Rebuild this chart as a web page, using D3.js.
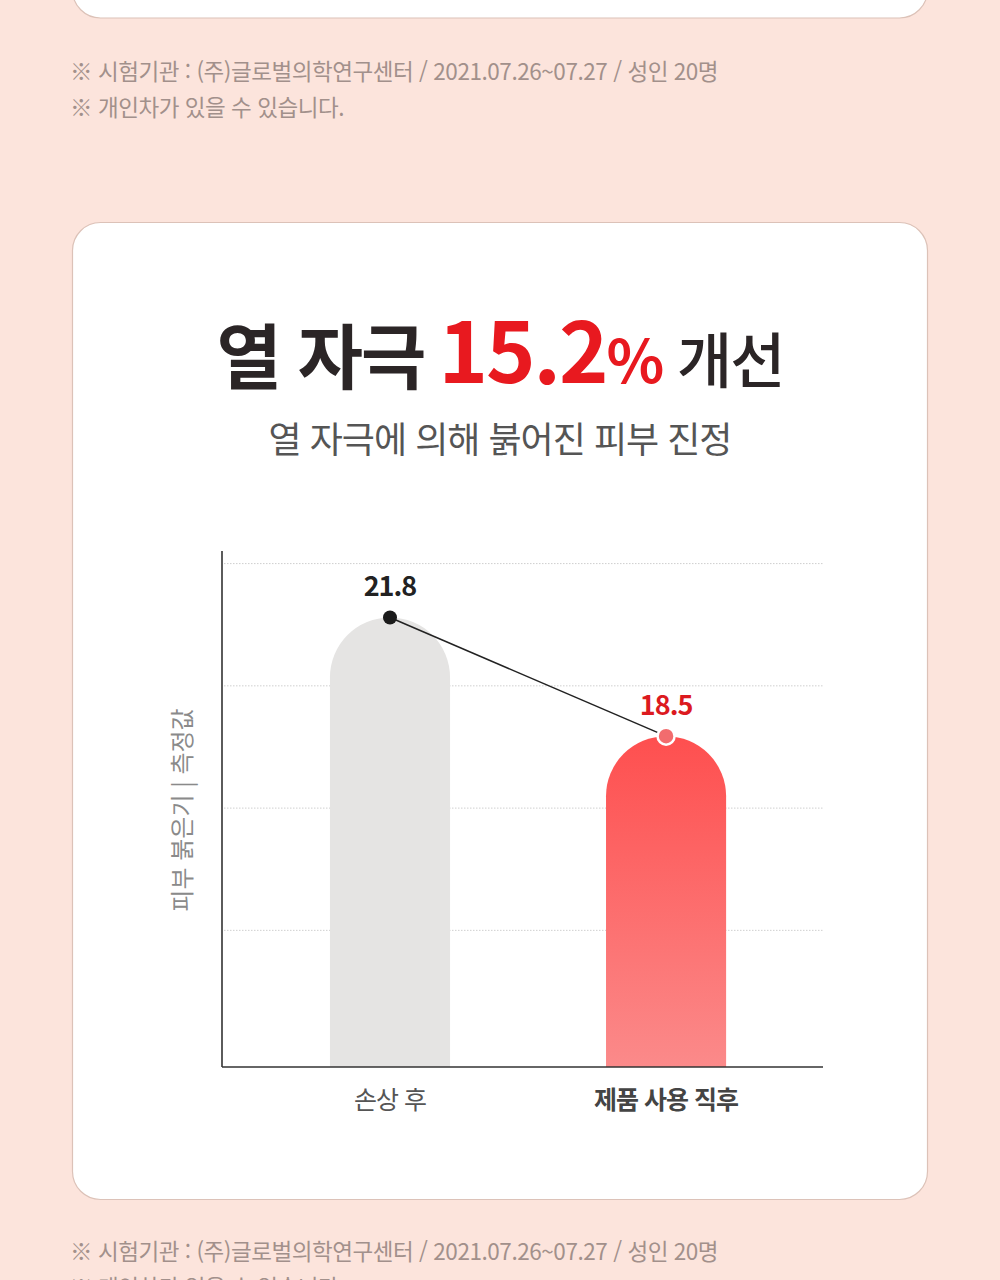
<!DOCTYPE html>
<html lang="ko">
<head>
<meta charset="UTF-8">
<title>열 자극 15.2% 개선</title>
<script src="https://d3js.org/d3.v7.min.js"></script>
<style>
  body { margin: 0; padding: 0; background: #fce4dc; }
  svg { display: block; font-family: "Noto Sans CJK KR", "Noto Sans", sans-serif; }
</style>
</head>
<body>
<script>
  // chart data
  const categories = ["손상 후", "제품 사용 직후"];
  const values = [21.8, 18.5];
  const valueLabels = ["21.8", "18.5"];
  const gridValues = [13.1, 16.5, 19.9, 23.3];
  const yDomain = [9.3, 23.65];
  const footnotes = [
    "※ 시험기관 : (주)글로벌의학연구센터 / 2021.07.26~07.27 / 성인 20명",
    "※ 개인차가 있을 수 있습니다."
  ];

  const width = 1000, height = 1280;
  const plot = { left: 222, right: 823, top: 551, bottom: 1067 };

  const svg = d3.select("body").append("svg")
      .attr("width", width)
      .attr("height", height);

  const defs = svg.append("defs");
  const grad = defs.append("linearGradient")
      .attr("id", "redGrad")
      .attr("x1", 0).attr("y1", 0).attr("x2", 0).attr("y2", 1);
  grad.append("stop").attr("offset", "0%").attr("stop-color", "#fe4f4f");
  grad.append("stop").attr("offset", "100%").attr("stop-color", "#fb8a8a");

  svg.append("rect")
      .attr("width", width).attr("height", height)
      .attr("fill", "#fce4dc");

  // previous card (bottom edge only)
  svg.append("rect")
      .attr("x", 72.5).attr("y", -60)
      .attr("width", 855).attr("height", 78)
      .attr("rx", 28)
      .attr("fill", "#fff")
      .attr("stroke", "#dcc2b8")
      .attr("stroke-width", 1.2);

  // notes
  function drawNotes(y0) {
    svg.append("g")
      .selectAll("text")
      .data(footnotes)
      .join("text")
        .attr("x", 70)
        .attr("y", (d, i) => y0 + i * 36)
        .attr("dy", "0.35em")
        .attr("font-size", 22.5)
        .attr("letter-spacing", "-0.45px")
        .attr("fill", "#a2908b")
        .text(d => d);
  }
  drawNotes(72);
  drawNotes(1252);

  // main card
  svg.append("rect")
      .attr("x", 72.5).attr("y", 222.5)
      .attr("width", 855).attr("height", 977)
      .attr("rx", 28)
      .attr("fill", "#fff")
      .attr("stroke", "#dcc2b8")
      .attr("stroke-width", 1.2);

  // title
  const title = svg.append("text")
      .attr("x", 500)
      .attr("y", 383)
      .attr("text-anchor", "middle")
      .attr("fill", "#2b2526")
      .attr("letter-spacing", "-2px");
  title.append("tspan").attr("font-size", 71).attr("font-weight", 700).text("열 자극");
  title.append("tspan").attr("font-size", 84).attr("font-weight", 700).attr("fill", "#e8191f").attr("dx", 14).text("15.2");
  title.append("tspan").attr("font-size", 60).attr("font-weight", 700).attr("fill", "#e8191f").text("%");
  title.append("tspan").attr("font-size", 60).attr("font-weight", 500).text(" 개선");

  svg.append("text")
      .attr("x", 500)
      .attr("y", 440)
      .attr("dy", "0.35em")
      .attr("text-anchor", "middle")
      .attr("font-size", 36)
      .attr("letter-spacing", "-1px")
      .attr("fill", "#555")
      .text("열 자극에 의해 붉어진 피부 진정");

  // scales
  const x = d3.scaleBand()
      .domain(categories)
      .range([plot.left, plot.right])
      .paddingInner(0.565)
      .paddingOuter(0.371)
      .align(0.527);

  const y = d3.scaleLinear()
      .domain(yDomain)
      .range([plot.bottom, plot.top]);

  // dotted grid
  svg.append("g")
    .selectAll("line")
    .data(gridValues)
    .join("line")
      .attr("x1", plot.left + 2).attr("x2", plot.right)
      .attr("y1", d => y(d)).attr("y2", d => y(d))
      .attr("stroke", "#cfcfcf")
      .attr("stroke-width", 1)
      .attr("stroke-dasharray", "1.5,1.5");

  // bars with round top
  const bw = x.bandwidth();
  const r = bw / 2;
  function barPath(d, i) {
    const x0 = x(categories[i]);
    const top = y(d);
    return `M${x0},${plot.bottom}V${top + r}A${r},${r} 0 0 1 ${x0 + bw},${top + r}V${plot.bottom}Z`;
  }
  svg.append("g")
    .selectAll("path")
    .data(values)
    .join("path")
      .attr("d", barPath)
      .attr("fill", (d, i) => i === 0 ? "#e5e4e3" : "url(#redGrad)");

  // axes lines
  svg.append("line")
      .attr("x1", plot.left).attr("x2", plot.left)
      .attr("y1", plot.top).attr("y2", plot.bottom)
      .attr("stroke", "#333").attr("stroke-width", 1.6);
  svg.append("line")
      .attr("x1", plot.left).attr("x2", plot.right)
      .attr("y1", plot.bottom).attr("y2", plot.bottom)
      .attr("stroke", "#333").attr("stroke-width", 1.6);

  // connecting line + dots
  const cx = (d, i) => x(categories[i]) + bw / 2;
  svg.append("path")
      .datum(values)
      .attr("d", d3.line().x(cx).y(d => y(d)))
      .attr("fill", "none")
      .attr("stroke", "#222")
      .attr("stroke-width", 1.5);

  svg.append("g")
    .selectAll("circle")
    .data(values)
    .join("circle")
      .attr("cx", cx)
      .attr("cy", d => y(d))
      .attr("r", (d, i) => i === 0 ? 7 : 8.5)
      .attr("fill", (d, i) => i === 0 ? "#1b1b1b" : "#f26c6e")
      .attr("stroke", (d, i) => i === 0 ? "none" : "#fff")
      .attr("stroke-width", 2.5);

  svg.append("g")
    .selectAll("text")
    .data(values)
    .join("text")
      .attr("x", cx)
      .attr("y", d => y(d) - 31)
      .attr("dy", "0.35em")
      .attr("text-anchor", "middle")
      .attr("font-size", 27)
      .attr("font-weight", 700)
      .attr("letter-spacing", "-1px")
      .attr("fill", (d, i) => i === 0 ? "#222" : "#dc1a1f")
      .text((d, i) => valueLabels[i]);

  // category labels
  svg.append("g")
    .selectAll("text")
    .data(categories)
    .join("text")
      .attr("x", d => x(d) + bw / 2)
      .attr("y", 1100)
      .attr("dy", "0.35em")
      .attr("text-anchor", "middle")
      .attr("font-size", 25)
      .attr("letter-spacing", "-1px")
      .attr("font-weight", (d, i) => i === 0 ? 400 : 700)
      .attr("fill", (d, i) => i === 0 ? "#555" : "#444")
      .text(d => d);

  // y title
  svg.append("text")
      .attr("transform", "translate(183,810) rotate(-90)")
      .attr("dy", "0.35em")
      .attr("text-anchor", "middle")
      .attr("font-size", 24)
      .attr("fill", "#8a8a8a")
      .text("피부 붉은기 | 측정값");
</script>
</body>
</html>
